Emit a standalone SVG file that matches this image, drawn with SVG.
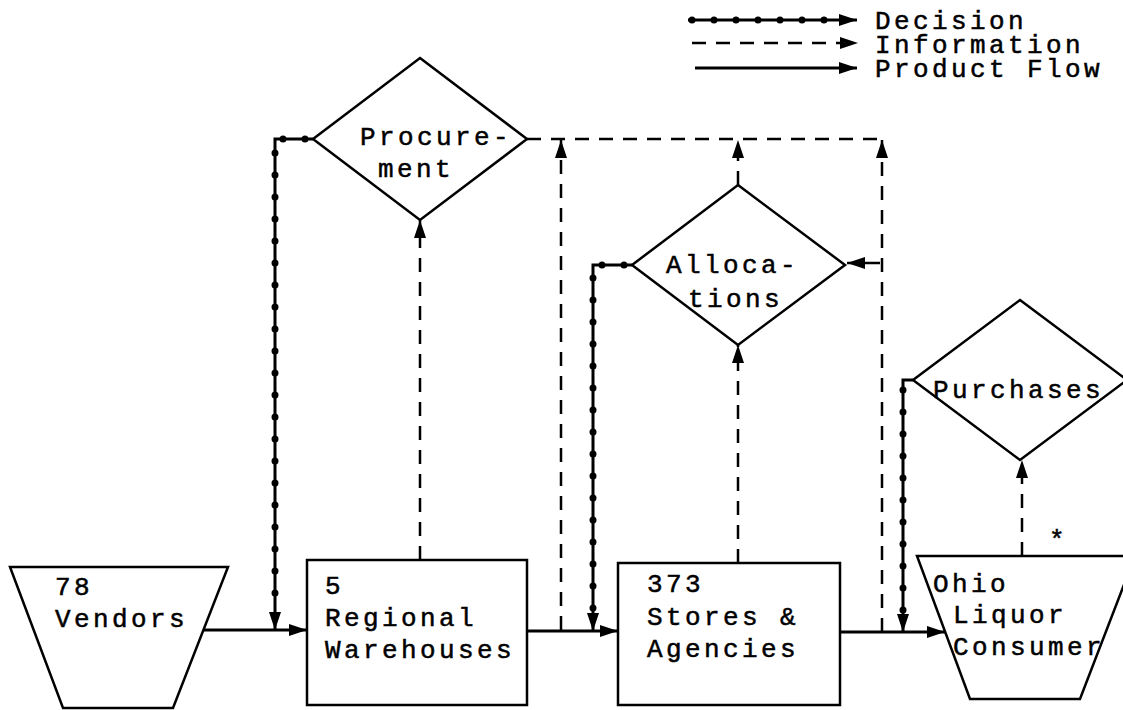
<svg xmlns="http://www.w3.org/2000/svg" width="1123" height="710" viewBox="0 0 1123 710">
<defs>
<marker id="ah" viewBox="0 0 18 12" markerWidth="18" markerHeight="12" refX="18" refY="6" orient="auto" markerUnits="userSpaceOnUse">
<path d="M0,0 L18,6 L0,12 z" fill="#000"/>
</marker>
<style>
.shape{fill:#fff;stroke:#000;stroke-width:2.5;stroke-linejoin:miter}
.t{font-family:"Liberation Mono","DejaVu Sans Mono",monospace;font-size:26px;letter-spacing:3.4px;fill:#000;stroke:#000;stroke-width:0.5}
.prod{fill:none;stroke:#000;stroke-width:3}
.dec{fill:none;stroke:#000;stroke-width:3}
.dots{fill:none;stroke:#000;stroke-width:7;stroke-linecap:round;stroke-dasharray:0 22}
.info{fill:none;stroke:#000;stroke-width:2.5;stroke-dasharray:14 10}
.stub{fill:none;stroke:#000;stroke-width:2.5}
.arr{marker-end:url(#ah)}
</style>
</defs>
<rect width="1123" height="710" fill="#fff"/>

<g id="legend">
<path class="dec arr" d="M688,20 H857"/>
<path class="dots" d="M692,20 H840"/>
<path class="info arr" d="M692,43 H858"/>
<path class="prod arr" d="M695,68 H857"/>
<text class="t" x="875" y="29">Decision</text>
<text class="t" x="875" y="53">Information</text>
<text class="t" x="875" y="77">Product Flow</text>
</g>

<g id="procurement">
<polygon class="shape" points="420,58 527,139 420,220 313,139"/>
<text class="t" x="360" y="145">Procure-</text>
<text class="t" x="378" y="177">ment</text>
</g>

<g id="allocations">
<polygon class="shape" points="738,185 845,265 738,345 632,265"/>
<text class="t" x="666" y="273">Alloca-</text>
<text class="t" x="688" y="307">tions</text>
</g>

<g id="purchases">
<polygon class="shape" points="1020,300 1127,380 1020,460 913,380"/>
<text class="t" x="933" y="398">Purchases</text>
</g>

<g id="vendors">
<polygon class="shape" points="10,567 228,567 173,708 63,708"/>
<text class="t" x="55" y="595">78</text>
<text class="t" x="55" y="627">Vendors</text>
</g>

<g id="warehouses">
<rect class="shape" x="307" y="560" width="220" height="145"/>
<text class="t" x="325" y="594">5</text>
<text class="t" x="325" y="626">Regional</text>
<text class="t" x="325" y="658">Warehouses</text>
</g>

<g id="stores">
<rect class="shape" x="618" y="563" width="222" height="142"/>
<text class="t" x="647" y="592">373</text>
<text class="t" x="647" y="625">Stores &amp;</text>
<text class="t" x="647" y="657">Agencies</text>
</g>

<g id="consumer">
<polygon class="shape" points="917,556 1135,556 1080,699 970,699"/>
<text class="t" x="933" y="592">Ohio</text>
<text class="t" x="953" y="623">Liquor</text>
<text class="t" x="953" y="655">Consumer</text>
</g>

<g id="connectors">
<path class="prod arr" d="M203,630 H307"/>
<path class="prod arr" d="M527,631 H618"/>
<path class="prod arr" d="M840,632 H945"/>

<path class="dec arr" d="M313,139 H275 V630"/>
<path class="dots" d="M305,139 H275 V612"/>
<path class="dec arr" d="M632,265 H593 V631"/>
<path class="dots" d="M624,265 H593 V613"/>
<path class="dec arr" d="M913,380 H903 V632"/>
<path class="dots" d="M903,390 V614"/>

<path class="info arr" d="M420,560 V220"/>
<path class="info arr" d="M738,563 V345"/>
<path class="info arr" d="M1022,556 V460"/>
<path class="info arr" d="M561,630 V140"/>
<path class="info arr" d="M738,185 V140"/>
<path class="info arr" d="M882,632 V140"/>
<path class="info" d="M527,139 H882"/>
<path class="stub arr" d="M880,263 H847"/>
<text class="t" x="1049" y="548">*</text>
</g>
</svg>
